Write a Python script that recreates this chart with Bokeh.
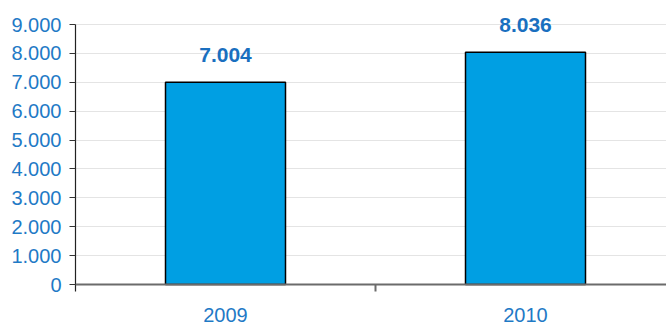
from bokeh.plotting import figure
from bokeh.models import ColumnDataSource, FixedTicker, Span, Range1d, LabelSet
from bokeh.core.properties import value
from bokeh.embed import file_html
from bokeh.resources import INLINE

# Data
years = ["2009", "2010"]
values = [7004, 8036]
value_labels = ["7.004", "8.036"]
y_ticks = [0, 1000, 2000, 3000, 4000, 5000, 6000, 7000, 8000, 9000]
y_tick_labels = ["0", "1.000", "2.000", "3.000", "4.000", "5.000", "6.000", "7.000", "8.000", "9.000"]

BLUE_TEXT = "#1f7ac6"
BAR_FILL = "#009fe3"
FONT = "Liberation Sans"

centers = [i + 0.5 for i in range(len(years))]
source = ColumnDataSource(dict(x=centers, top=values, label=value_labels))

p = figure(
    width=666, height=324,
    output_backend="svg", toolbar_location=None,
    x_range=Range1d(0, 1.97), y_range=Range1d(-242, 9831),
    min_border_left=75, min_border_right=0,
    min_border_top=0, min_border_bottom=33,
)
p.outline_line_color = None
p.background_fill_color = "white"
p.border_fill_color = "white"

# bars
p.vbar(x="x", top="top", bottom=0, width=0.4, source=source,
       fill_color=BAR_FILL, line_color="black", line_width=1.5)

# value labels above bars
labels = LabelSet(x="x", y="top", text="label", source=source,
                  text_align="center", text_baseline="middle",
                  y_offset=27, text_font=value(FONT), text_font_size="21px",
                  text_font_style="bold", text_color="#1a6fbf")
p.add_layout(labels)

# baseline
p.add_layout(Span(location=0, dimension="width", line_color="#6b6b6b", line_width=2))

# y axis
yax = p.yaxis[0]
yax.ticker = FixedTicker(ticks=y_ticks)
yax.bounds = (-242, 9000)
yax.major_label_overrides = {t: l for t, l in zip(y_ticks, y_tick_labels)}
yax.major_label_text_font = FONT
yax.major_label_text_font_size = "20px"
yax.major_label_text_color = BLUE_TEXT
yax.major_tick_out = 6
yax.major_tick_in = 0
yax.major_tick_line_color = "#333333"
yax.minor_tick_line_color = None
yax.axis_line_color = "#222222"
yax.axis_line_width = 1.2
yax.major_label_standoff = 8

# x axis: labels at category centers, separator tick between categories
xax = p.xaxis[0]
xax.ticker = FixedTicker(ticks=centers, minor_ticks=[1.0])
xax.major_label_overrides = {c: y for c, y in zip(centers, years)}
xax.major_label_text_font = FONT
xax.major_label_text_font_size = "20px"
xax.major_label_text_color = BLUE_TEXT
xax.major_tick_line_color = None
xax.major_tick_out = 0
xax.major_tick_in = 0
xax.minor_tick_line_color = "#6b6b6b"
xax.minor_tick_line_width = 2
xax.minor_tick_in = 7
xax.minor_tick_out = 0
xax.axis_line_color = None
xax.major_label_standoff = 16

# grid
p.xgrid.grid_line_color = None
p.ygrid.ticker = FixedTicker(ticks=y_ticks)
p.ygrid.grid_line_color = "#e4e4e4"
p.ygrid.grid_line_width = 1

open("out.html", "w").write(file_html(p, INLINE))
